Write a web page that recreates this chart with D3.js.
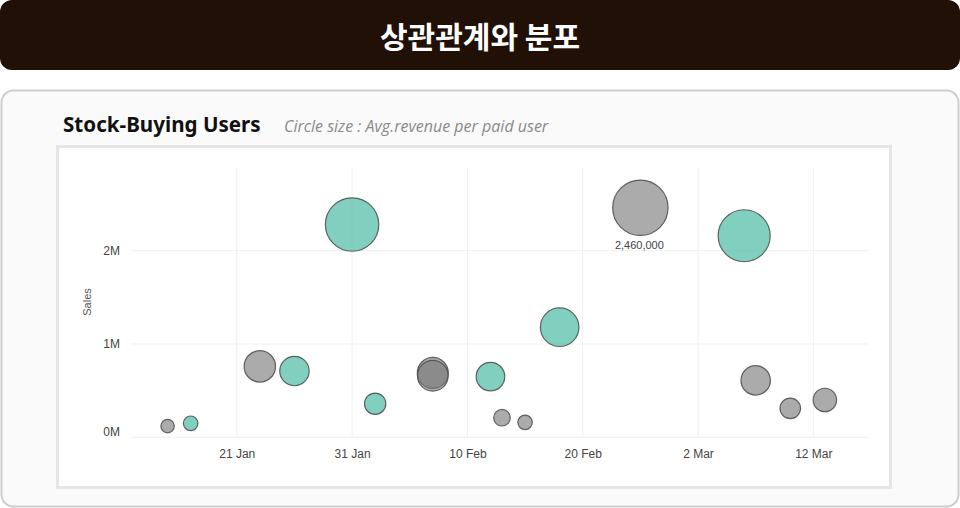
<!DOCTYPE html>
<html><head><meta charset="utf-8">
<script src="https://cdn.jsdelivr.net/npm/d3@7"></script>
<style>
html,body{margin:0;padding:0;background:#fff;}
svg{display:block;}
</style></head>
<body>
<svg id="c" width="960" height="508"></svg>
<script>
// ---- data ----
const dates = ["2023-01-15","2023-01-17","2023-01-23","2023-01-26","2023-01-31","2023-02-02","2023-02-07","2023-02-07","2023-02-12","2023-02-13","2023-02-15","2023-02-18","2023-02-25","2023-03-06","2023-03-07","2023-03-10","2023-03-13"];
const sales = [120000,150000,760000,710000,2280000,360000,690000,660000,650000,210000,160000,1180000,2460000,2160000,610000,310000,400000];
const avgRevenue = [45,53,246,216,713,114,240,235,204,69,53,372,767,676,216,106,137];
const group = ["other","stock","other","stock","stock","stock","other","other","stock","other","other","stock","other","stock","other","other","other"];
const xTickLabels = ["2023-01-21","2023-01-31","2023-02-10","2023-02-20","2023-03-02","2023-03-12"];
const yTickValues = [0,1000000,2000000];
const labeledValue = 2460000;

const svg = d3.select("#c");
const parse = d3.utcParse("%Y-%m-%d");

// header
svg.append("rect").attr("x",0).attr("y",0).attr("width",960).attr("height",70).attr("rx",12).attr("fill","#201006");
svg.append("text").attr("x",480).attr("y",48).attr("text-anchor","middle")
  .attr("font-family","'Noto Sans CJK KR'").attr("font-weight",700).attr("font-size",30).attr("fill","#fff")
  .text("상관관계와 분포");

// card
svg.append("rect").attr("x",1.5).attr("y",90.5).attr("width",957).attr("height",416).attr("rx",12)
  .attr("fill","#fafafa").attr("stroke","#cdcdcd").attr("stroke-width",2);
svg.append("text").attr("x",63).attr("y",132).attr("font-family","'Noto Sans'").attr("font-weight",700)
  .attr("font-size",20.6).attr("fill","#111").text("Stock-Buying Users");
svg.append("text").attr("x",284).attr("y",131.5).attr("font-family","'Open Sans'").attr("font-style","italic")
  .attr("font-size",16).attr("fill","#8a8a8a").text("Circle size : Avg.revenue per paid user");

// panel
svg.append("rect").attr("x",57.5).attr("y",146.5).attr("width",833).attr("height",341)
  .attr("fill","#fff").attr("stroke","#e6e6e6").attr("stroke-width",3);

// scales
const x = d3.scaleUtc().domain([parse("2023-01-12"), parse("2023-03-17")]).range([133, 871]);
const y = d3.scaleLinear().domain([0, 2886000]).range([437.3, 168]);
const r = d3.scaleSqrt().domain([0, 800]).range([0, Math.sqrt(800)]);
const color = {stock:"#33b298", other:"#777777"};

const plotL = 131, plotR = 868, plotT = 168, plotB = 437.3;
const g = svg.append("g");

// grid
g.selectAll(".vg").data(xTickLabels.map(parse)).join("line")
  .attr("x1",d=>x(d)).attr("x2",d=>x(d)).attr("y1",plotT).attr("y2",plotB)
  .attr("stroke","#f0f0f0").attr("stroke-width",1);
g.selectAll(".hg").data(yTickValues).join("line")
  .attr("x1",plotL).attr("x2",plotR).attr("y1",d=>y(d)).attr("y2",d=>y(d))
  .attr("stroke","#f0f0f0").attr("stroke-width",1);

// axes
const xAxis = d3.axisBottom(x).tickValues(xTickLabels.map(parse)).tickFormat(d3.utcFormat("%-d %b")).tickSize(0).tickPadding(12);
const xa = svg.append("g").attr("transform",`translate(0,${plotB})`).call(xAxis);
xa.select(".domain").remove();
xa.selectAll("text").attr("font-family","'Liberation Sans'").attr("font-size",12).attr("fill","#444");

const yAxis = d3.axisLeft(y).tickValues(yTickValues).tickFormat(d=>(d/1e6)+"M").tickSize(0).tickPadding(0);
const ya = svg.append("g").attr("transform",`translate(120,0)`).call(yAxis);
ya.select(".domain").remove();
ya.selectAll("text").attr("font-family","'Liberation Sans'").attr("font-size",12).attr("fill","#444")
  .attr("transform",d=>d===0?"translate(0,-6)":null);

svg.append("text").attr("transform","translate(91,302) rotate(-90)").attr("text-anchor","middle")
  .attr("font-family","'Liberation Sans'").attr("font-size",11).attr("fill","#555").text("Sales");

// points
const data = dates.map((d,i)=>({date:parse(d), sales:sales[i], rev:avgRevenue[i], group:group[i]}));
g.selectAll("circle.pt").data(data).join("circle").attr("class","pt")
  .attr("cx",d=>x(d.date)).attr("cy",d=>y(d.sales)).attr("r",d=>r(d.rev))
  .attr("fill",d=>color[d.group]).attr("fill-opacity",0.62)
  .attr("stroke","#4a4a4a").attr("stroke-opacity",0.85).attr("stroke-width",1.2);

g.selectAll("text.lbl").data(data.filter(d=>d.sales===labeledValue)).join("text").attr("class","lbl")
  .attr("x",d=>x(d.date)-1).attr("y",d=>y(d.sales)+r(d.rev)+14).attr("text-anchor","middle")
  .attr("font-family","'Liberation Sans'").attr("font-size",11).attr("fill","#444")
  .text(d=>d3.format(",")(d.sales));
</script>
</body></html>
